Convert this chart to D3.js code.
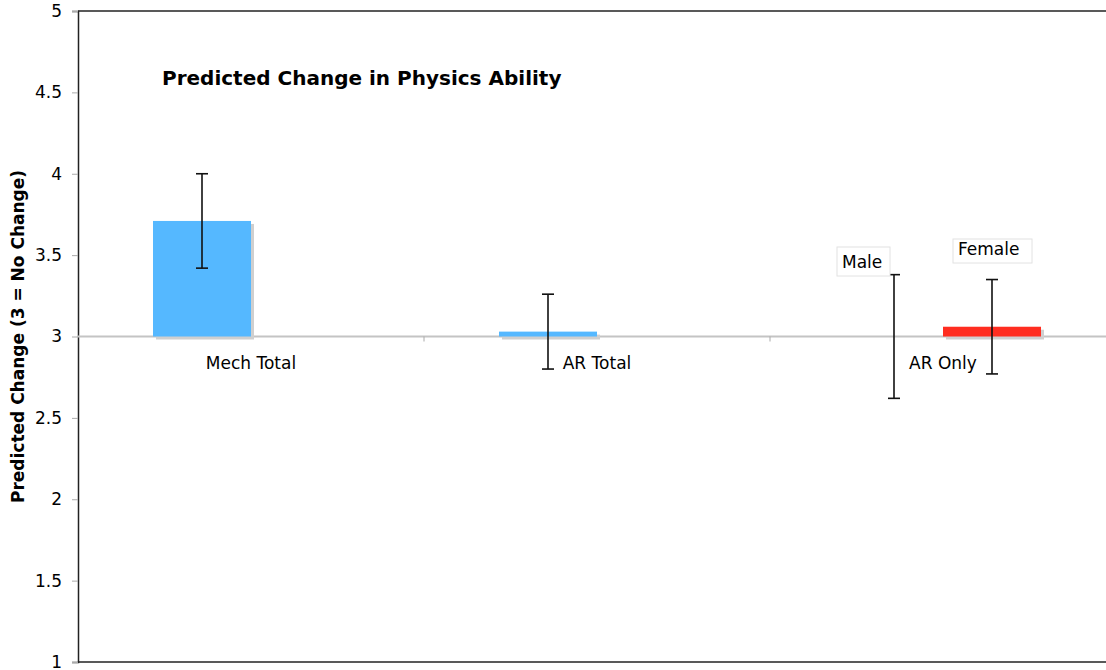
<!DOCTYPE html>
<html><head><meta charset="utf-8">
<script src="https://cdn.jsdelivr.net/npm/d3@7"></script>
<style>body{margin:0;background:#fff}svg{display:block}</style>
</head><body><svg id="c" width="1106" height="670"></svg>
<script>
const categories = ["Mech Total", "AR Total", "AR Only"];
const series1 = [3.71, 3.03, 3.0];      // blue (Male in AR Only)
const series1Lo = [3.42, 2.80, 2.62];
const series1Hi = [4.00, 3.26, 3.38];
const series2 = [null, null, 3.06];    // red (Female)
const series2Lo = [null, null, 2.77];
const series2Hi = [null, null, 3.35];
const yTicks = [1, 1.5, 2, 2.5, 3, 3.5, 4, 4.5, 5];
const yTickLabels = ["1", "1.5", "2", "2.5", "3", "3.5", "4", "4.5", "5"];

(function () {
const svg = d3.select("#c");
const font = "'DejaVu Sans', Verdana, sans-serif";
const pLeft = 78, pTop = 11, pBottom = 662, rightEnd = 1116;
const y = d3.scaleLinear().domain([1, 5]).range([pBottom, pTop]);
const x = d3.scaleBand().domain(categories).range([pLeft, rightEnd]).paddingInner(0).paddingOuter(0);
const barW = 98;
const base = y(3);

// frame
svg.append("line").attr("x1", pLeft).attr("x2", 1106).attr("y1", pTop).attr("y2", pTop).attr("stroke", "#222").attr("stroke-width", 1.5);
svg.append("line").attr("x1", pLeft).attr("x2", 1106).attr("y1", pBottom).attr("y2", pBottom).attr("stroke", "#222").attr("stroke-width", 1.5);

// y axis
const yAxis = d3.axisLeft(y).tickValues(yTicks).tickFormat((d, i) => yTickLabels[i]).tickSize(6).tickPadding(10);
const ga = svg.append("g").attr("transform", `translate(${pLeft},0)`).call(yAxis);
ga.attr("font-size", null).attr("font-family", null);
ga.select(".domain").attr("stroke", "#222").attr("stroke-width", 1.5);
ga.selectAll(".tick line").attr("stroke", "#aaa");
ga.selectAll(".tick text").style("font-family", font).style("font-size", "17px").attr("fill", "#000");

// category axis at y=3
svg.append("line").attr("x1", pLeft).attr("x2", 1106).attr("y1", base).attr("y2", base).attr("stroke", "#c4c4c4").attr("stroke-width", 2);
categories.slice(1).forEach(c => {
  svg.append("line").attr("x1", x(c)).attr("x2", x(c)).attr("y1", base).attr("y2", base + 5).attr("stroke", "#aaa").attr("stroke-width", 1);
});

function bar(v, xs, color) {
  const yt = Math.min(y(v), base), h = Math.abs(y(v) - base);
  if (h < 0.5) return;
  svg.append("rect").attr("x", xs + 3).attr("y", yt + 3).attr("width", barW).attr("height", h).attr("fill", "#cfcfcf");
  svg.append("rect").attr("x", xs).attr("y", yt).attr("width", barW).attr("height", h).attr("fill", color);
}
function err(lo, hi, cx) {
  svg.append("line").attr("x1", cx).attr("x2", cx).attr("y1", y(hi)).attr("y2", y(lo)).attr("stroke", "#111").attr("stroke-width", 1.6);
  [lo, hi].forEach(v => svg.append("line").attr("x1", cx - 6).attr("x2", cx + 6).attr("y1", y(v)).attr("y2", y(v)).attr("stroke", "#111").attr("stroke-width", 1.6));
}

categories.forEach((c, i) => {
  const mid = x(c) + x.bandwidth() / 2;
  if (series1[i] != null) bar(series1[i], mid - barW, "#55b8ff");
  if (series2[i] != null) bar(series2[i], mid, "#ff2d20");
});
categories.forEach((c, i) => {
  const mid = x(c) + x.bandwidth() / 2;
  if (series1[i] != null) err(series1Lo[i], series1Hi[i], mid - barW / 2);
  if (series2[i] != null) err(series2Lo[i], series2Hi[i], mid + barW / 2);
  svg.append("text").attr("x", mid).attr("y", base + 32).attr("text-anchor", "middle")
    .attr("font-family", font).attr("font-size", 17).text(c);
});

// title
svg.append("text").attr("x", 162).attr("y", 85).attr("font-family", font).attr("font-size", 20)
  .attr("font-weight", "bold").text("Predicted Change in Physics Ability");

// y label
svg.append("text").attr("transform", `translate(24,${(pTop + pBottom) / 2}) rotate(-90)`)
  .attr("text-anchor", "middle").attr("font-family", font).attr("font-size", 17).attr("font-weight", "bold")
  .text("Predicted Change (3 = No Change)");

// labels in boxes
function boxLabel(txt, bx, by, bw, bh) {
  svg.append("rect").attr("x", bx).attr("y", by).attr("width", bw).attr("height", bh).attr("fill", "#fff").attr("stroke", "#e2e2e2");
  svg.append("text").attr("x", bx + 5).attr("y", by + bh - 8).attr("font-family", font).attr("font-size", 17).text(txt);
}
boxLabel("Male", 837, 247, 53, 29);
boxLabel("Female", 953, 239, 79, 24);
})();
</script></body></html>
